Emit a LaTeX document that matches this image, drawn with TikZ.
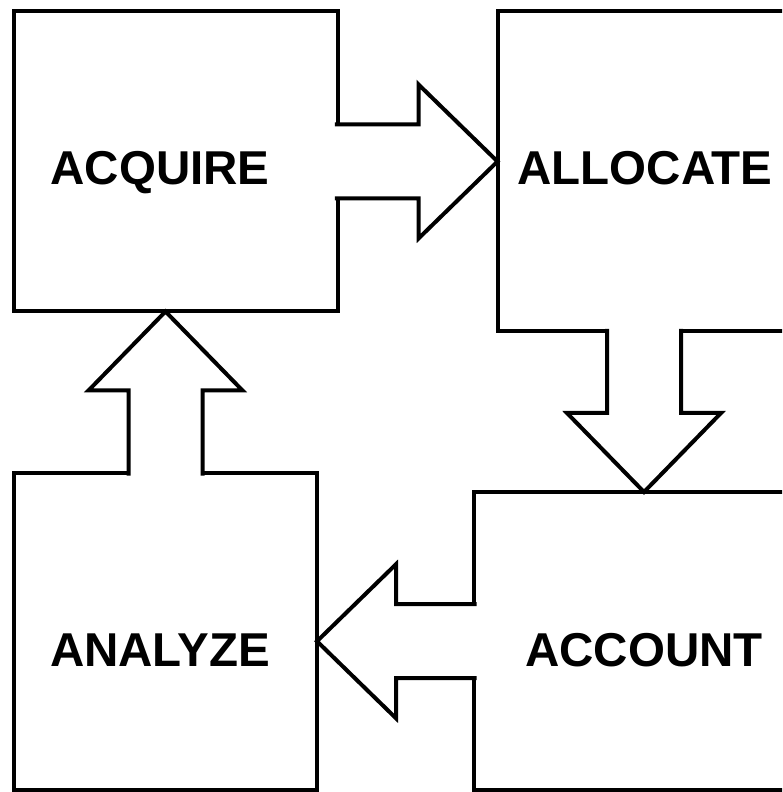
\documentclass[tikz,border=0pt]{standalone}
\usepackage{fontspec}
\setmainfont{Liberation Sans}
\usetikzlibrary{calc}

\begin{document}
\begin{tikzpicture}[x=1pt,y=1pt,
  stagebox/.style={draw, line width=4pt, rectangle, outer sep=0pt, inner sep=0pt},
  stagetext/.style={anchor=base, inner sep=0pt, font=\fontsize{47.5}{47.5}\selectfont\bfseries},
  flowarrow/.style={draw, fill=white, line width=4pt, line join=miter}]
\path[use as bounding box, clip] (0,0) rectangle (782,792);
\node[stagebox, minimum width=323.5pt, minimum height=300pt] (acquire) at (175.75,630.5) {};
\node[stagebox, minimum width=293pt, minimum height=320pt] (allocate) at (644,620.5) {};
\node[stagebox, minimum width=340pt, minimum height=298.5pt] (account) at (644,150.75) {};
\node[stagebox, minimum width=303pt, minimum height=317.5pt] (analyze) at (165.5,160.25) {};
\node[stagetext] (acquire-text) at (160,607) {ACQUIRE};
\node[stagetext] (allocate-text) at (645,607) {ALLOCATE};
\node[stagetext] (account-text) at (644,125) {ACCOUNT};
\node[stagetext] (analyze-text) at (160,125) {ANALYZE};
\coordinate (tip1) at (allocate.west |- acquire.east);
\coordinate (tip2) at (allocate.south |- account.north);
\coordinate (tip3) at (analyze.east |- account.west);
\coordinate (tip4) at (analyze.north |- acquire.south);
\draw[flowarrow] ([shift={(-2.6,37)}]acquire.east) -- ([shift={(-79,37)}]tip1) -- ([shift={(-79,77)}]tip1) -- (tip1) -- ([shift={(-79,-77)}]tip1) -- ([shift={(-79,-37)}]tip1) -- ([shift={(-2.6,-37)}]acquire.east);
\draw[flowarrow] ([shift={(-37,2.6)}]allocate.south) -- ([shift={(-37,79)}]tip2) -- ([shift={(-77,79)}]tip2) -- (tip2) -- ([shift={(77,79)}]tip2) -- ([shift={(37,79)}]tip2) -- ([shift={(37,2.6)}]allocate.south);
\draw[flowarrow] ([shift={(2.6,37)}]account.west) -- ([shift={(79,37)}]tip3) -- ([shift={(79,77)}]tip3) -- (tip3) -- ([shift={(79,-77)}]tip3) -- ([shift={(79,-37)}]tip3) -- ([shift={(2.6,-37)}]account.west);
\draw[flowarrow] ([shift={(-37,-2.6)}]analyze.north) -- ([shift={(-37,-79)}]tip4) -- ([shift={(-77,-79)}]tip4) -- (tip4) -- ([shift={(77,-79)}]tip4) -- ([shift={(37,-79)}]tip4) -- ([shift={(37,-2.6)}]analyze.north);
\end{tikzpicture}
\end{document}
